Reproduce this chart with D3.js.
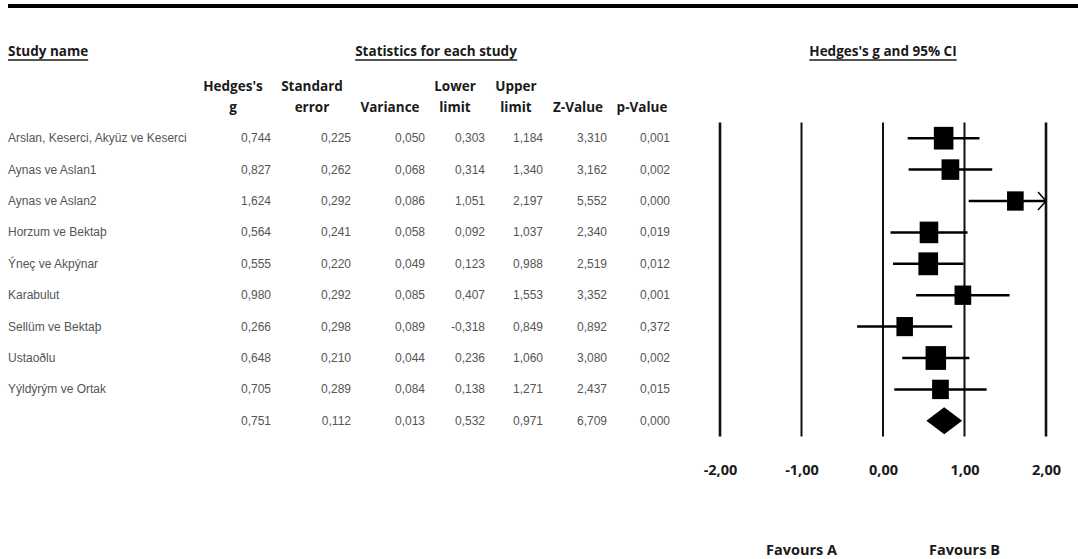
<!DOCTYPE html>
<html>
<head>
<meta charset="utf-8">
<script src="https://cdn.jsdelivr.net/npm/d3@7"></script>
<style>
  body { margin: 0; background: #fff; }
  svg { display: block; }
</style>
</head>
<body>
<svg id="chart"></svg>
<script>
// Study rows
const studies = [
  "Arslan, Keserci, Akyüz ve Keserci",
  "Aynas ve Aslan1",
  "Aynas ve Aslan2",
  "Horzum ve Bektaþ",
  "Ýneç ve Akpýnar",
  "Karabulut",
  "Sellüm ve Bektaþ",
  "Ustaoðlu",
  "Yýldýrým ve Ortak"
];
const hedgesG  = [0.744, 0.827, 1.624, 0.564, 0.555, 0.980, 0.266, 0.648, 0.705];
const stdError = [0.225, 0.262, 0.292, 0.241, 0.220, 0.292, 0.298, 0.210, 0.289];
const variance = [0.050, 0.068, 0.086, 0.058, 0.049, 0.085, 0.089, 0.044, 0.084];
const lowerLim = [0.303, 0.314, 1.051, 0.092, 0.123, 0.407, -0.318, 0.236, 0.138];
const upperLim = [1.184, 1.340, 2.197, 1.037, 0.988, 1.553, 0.849, 1.060, 1.271];
const zValue   = [3.310, 3.162, 5.552, 2.340, 2.519, 3.352, 0.892, 3.080, 2.437];
const pValue   = [0.001, 0.002, 0.000, 0.019, 0.012, 0.001, 0.372, 0.002, 0.015];

// Pooled (summary) row: g, se, variance, lower, upper, z, p
const summaryStats = [0.751, 0.112, 0.013, 0.532, 0.971, 6.709, 0.000];

const axisTicks = [-2, -1, 0, 1, 2];
const favourLabels = ["Favours A", "Favours B"];
const favourAt = [-1, 1];

const W = 1078, H = 559;
const svg = d3.select("#chart").attr("width", W).attr("height", H);

// comma decimal like the original software output
const locale = d3.formatLocale({ decimal: ",", thousands: ".", grouping: [3], currency: ["", ""], minus: "-" });
const f3 = locale.format(".3f");
const f2 = locale.format(".2f");

const rowIds = studies.map((d, i) => "s" + i).concat(["summary"]);
const yScale = d3.scaleBand().domain(rowIds).range([122.5, 436.5]).padding(0);
const yc = id => yScale(id) + yScale.bandwidth() / 2;

const xScale = d3.scaleLinear().domain([-2, 2]).range([720, 1046]);

const headFont = "'Open Sans', 'DejaVu Sans', sans-serif";
const cellFont = "'Liberation Sans Narrow', 'Liberation Sans', Arial, sans-serif";
const headSize = "13.5px";

// Top rule
svg.append("line")
  .attr("x1", 8).attr("x2", W).attr("y1", 6).attr("y2", 6)
  .attr("stroke", "#000").attr("stroke-width", 4);

// Group headers with underline
function underlinedTitle(text, x, anchor) {
  const t = svg.append("text")
    .attr("x", x).attr("y", 56)
    .attr("text-anchor", anchor)
    .style("font-family", headFont).style("font-weight", 700)
    .style("font-size", headSize).style("fill", "#1a1a1a")
    .text(text);
  const bb = t.node().getBBox();
  svg.append("line")
    .attr("x1", bb.x).attr("x2", bb.x + bb.width)
    .attr("y1", 60).attr("y2", 60)
    .attr("stroke", "#1a1a1a").attr("stroke-width", 1.4);
}
underlinedTitle("Study name", 8, "start");
underlinedTitle("Statistics for each study", 436, "middle");
underlinedTitle("Hedges's g and 95% CI", xScale(0), "middle");

// Column headers
const colHeaders = [
  ["Hedges's", "g"], ["Standard", "error"], ["", "Variance"], ["Lower", "limit"],
  ["Upper", "limit"], ["", "Z-Value"], ["", "p-Value"]
];
const headerX = [233, 312, 390, 455, 516, 578, 642];
const colRight = [271, 351, 425, 485, 543, 607, 670];

colHeaders.forEach((lines, i) => {
  lines.forEach((l, j) => {
    if (!l) return;
    svg.append("text")
      .attr("x", headerX[i]).attr("y", j === 0 ? 91 : 112)
      .attr("text-anchor", "middle")
      .style("font-family", headFont).style("font-weight", 700)
      .style("font-size", headSize).style("fill", "#1a1a1a")
      .text(l);
  });
});

// Table body
const columns = [hedgesG, stdError, variance, lowerLim, upperLim, zValue, pValue];
const cellStyle = sel => sel
  .style("font-family", cellFont).style("font-size", "12px")
  .style("fill", "#555").attr("dominant-baseline", "central");

svg.append("g").selectAll("text")
  .data(studies)
  .join("text")
  .attr("x", 8).attr("y", (d, i) => yc("s" + i))
  .call(cellStyle)
  .text(d => d);

columns.forEach((col, c) => {
  svg.append("g").selectAll("text")
    .data(col.concat([summaryStats[c]]))
    .join("text")
    .attr("x", colRight[c]).attr("y", (d, i) => yc(rowIds[i]))
    .attr("text-anchor", "end")
    .call(cellStyle)
    .text(d => f3(d));
});

// Forest plot: reference lines
svg.append("g").selectAll("line")
  .data(axisTicks)
  .join("line")
  .attr("x1", d => xScale(d)).attr("x2", d => xScale(d))
  .attr("y1", yScale.range()[0]).attr("y2", yScale.range()[1])
  .attr("stroke", "#111")
  .attr("stroke-width", d => Math.abs(d) === 2 ? 2.6 : 2);

// CI lines
const rows = studies.map((s, i) => ({
  id: "s" + i, g: hedgesG[i], lo: lowerLim[i], hi: upperLim[i], w: 1 / variance[i]
}));
const [xmin, xmax] = xScale.domain();
const clampX = v => xScale(Math.max(xmin, Math.min(xmax, v)));

svg.append("g").selectAll("line")
  .data(rows)
  .join("line")
  .attr("x1", d => clampX(d.lo)).attr("x2", d => clampX(d.hi))
  .attr("y1", d => yc(d.id)).attr("y2", d => yc(d.id))
  .attr("stroke", "#000").attr("stroke-width", 2.5);

// arrows where CI runs past the axis
rows.filter(d => d.hi > xmax).forEach(d => {
  const x = xScale(xmax), y = yc(d.id);
  svg.append("path")
    .attr("d", `M${x - 8},${y - 9}L${x},${y}L${x - 8},${y + 9}`)
    .attr("fill", "none").attr("stroke", "#000").attr("stroke-width", 1.5);
});

// Squares sized by weight
const sizeScale = d3.scaleLinear()
  .domain(d3.extent(rows, d => d.w))
  .range([16.5, 20.5]);

svg.append("g").selectAll("rect")
  .data(rows)
  .join("rect")
  .attr("x", d => xScale(d.g) - sizeScale(d.w) / 2)
  .attr("y", d => yc(d.id) - sizeScale(d.w) * 1.16 / 2)
  .attr("width", d => sizeScale(d.w))
  .attr("height", d => sizeScale(d.w) * 1.16)
  .attr("fill", "#000");

// Summary diamond
const sy = yc("summary");
svg.append("path")
  .datum({ g: summaryStats[0], lo: summaryStats[3], hi: summaryStats[4] })
  .attr("d", d => `M${xScale(d.lo)},${sy}L${xScale(d.g)},${sy - 13.5}L${xScale(d.hi)},${sy}L${xScale(d.g)},${sy + 13.5}Z`)
  .attr("fill", "#000");

// Axis labels
const axis = d3.axisBottom(xScale).tickValues(axisTicks).tickFormat(f2).tickSize(0).tickPadding(0);
const axG = svg.append("g").attr("transform", "translate(0,462)").call(axis);
axG.select(".domain").remove();
axG.selectAll("text")
  .attr("dy", null).attr("y", 13)
  .style("font-family", headFont).style("font-weight", 700)
  .style("font-size", "14.5px").style("fill", "#1a1a1a");

// Favours labels
svg.append("g").selectAll("text")
  .data(favourLabels)
  .join("text")
  .attr("x", (d, i) => xScale(favourAt[i])).attr("y", 555)
  .attr("text-anchor", "middle")
  .style("font-family", headFont).style("font-weight", 700)
  .style("font-size", "14.5px").style("fill", "#1a1a1a")
  .text(d => d);
</script>
</body>
</html>
